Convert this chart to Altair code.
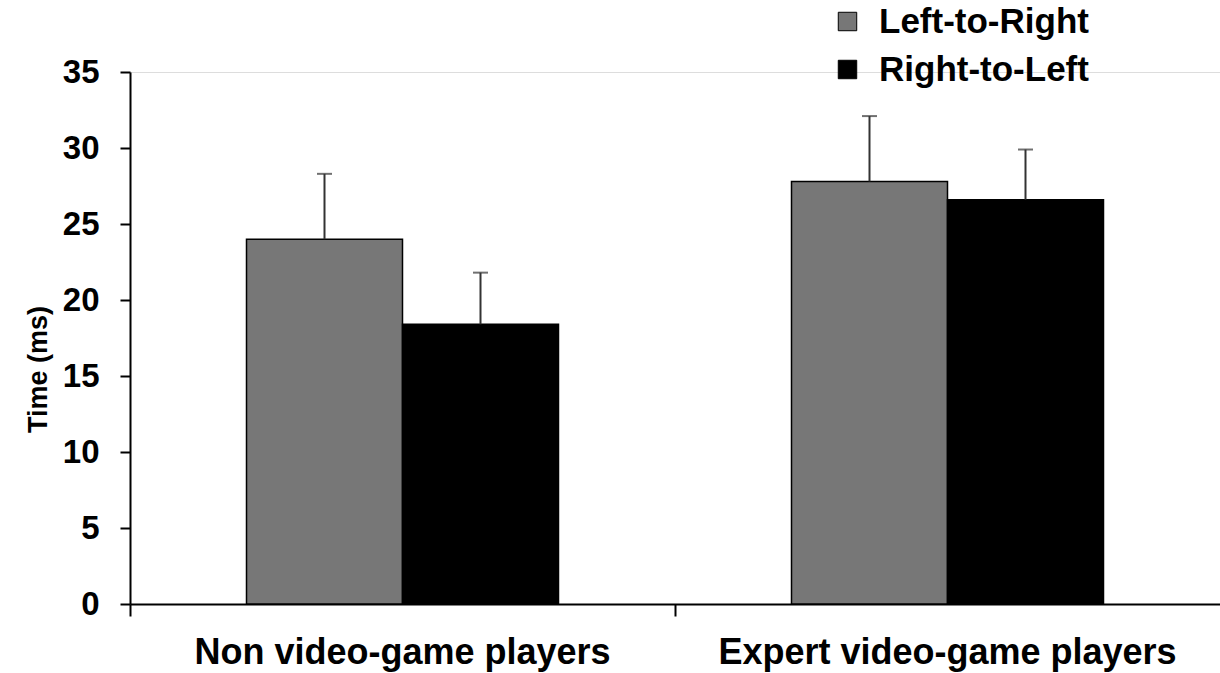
import altair as alt
import pandas as pd

groups = ["Non video-game players", "Expert video-game players"]
series = ["Left-to-Right", "Right-to-Left"]
mean_ltr = [24.0, 27.8]
mean_rtl = [18.4, 26.6]
upper_ltr = [28.3, 32.1]
upper_rtl = [21.8, 29.9]

rows = []
for i, g in enumerate(groups):
    rows.append({"group": g, "series": series[0], "mean": mean_ltr[i], "upper": upper_ltr[i]})
    rows.append({"group": g, "series": series[1], "mean": mean_rtl[i], "upper": upper_rtl[i]})
df = pd.DataFrame(rows)

FONT = "Liberation Sans"

x_enc = alt.X(
    "group:N",
    sort=groups,
    scale=alt.Scale(paddingInner=0, paddingOuter=0),
    axis=alt.Axis(
        title=None, labelAngle=0, bandPosition=0, labelLimit=0,
        labelFontSize=36, labelFont=FONT, labelFontWeight="bold", labelColor="black",
        labelPadding=19, tickSize=12, tickWidth=2, tickColor="black",
        domainColor="black", domainWidth=2,
    ),
)
xoff = alt.XOffset("series:N", sort=series,
                   scale=alt.Scale(paddingInner=0, paddingOuter=0.7468))
y_scale = alt.Scale(domain=[0, 35], nice=False)

bars = alt.Chart(df).mark_bar(stroke="black", strokeWidth=1.5).encode(
    x=x_enc,
    xOffset=xoff,
    y=alt.Y(
        "mean:Q", scale=y_scale,
        axis=alt.Axis(
            title="Time (ms)", values=[0, 5, 10, 15, 20, 25, 30, 35], grid=False,
            labelFontSize=33, labelFont=FONT, labelFontWeight="bold", labelColor="black",
            labelPadding=21, tickSize=10, tickWidth=2, tickColor="black",
            domainColor="black", domainWidth=2,
            titleFontSize=27, titleFont=FONT, titleFontWeight="bold", titleColor="black",
            titlePadding=10, titleY=297, titleAlign="center",
        ),
    ),
    color=alt.Color(
        "series:N", sort=series,
        scale=alt.Scale(domain=series, range=["#777777", "#000000"]),
        legend=alt.Legend(
            title=None, orient="none", legendX=700, legendY=-68,
            symbolType="square", symbolSize=340, symbolStrokeColor="black",
            symbolStrokeWidth=1, symbolOpacity=1,
            labelFontSize=35, labelFont=FONT, labelFontWeight="bold", labelColor="black",
            labelOffset=14, rowPadding=12, labelLimit=400,
        ),
    ),
)

errs = alt.Chart(df).mark_rule(color="#333333", strokeWidth=2).encode(
    x=alt.X("group:N", sort=groups),
    xOffset=xoff,
    y=alt.Y("mean:Q", scale=y_scale),
    y2="upper:Q",
)

caps = alt.Chart(df).mark_tick(color="#333333", thickness=2, size=15).encode(
    x=alt.X("group:N", sort=groups),
    xOffset=xoff,
    y=alt.Y("upper:Q", scale=y_scale),
)

chart = alt.layer(bars, errs, caps).properties(
    width=1090, height=532,
    autosize=alt.AutoSizeParams(type="none"),
    padding={"left": 130, "top": 72, "right": 0, "bottom": 69},
).configure_view(stroke=None).configure(background="white")

chart.save("out.html", embed_options={"renderer": "svg", "actions": False})
